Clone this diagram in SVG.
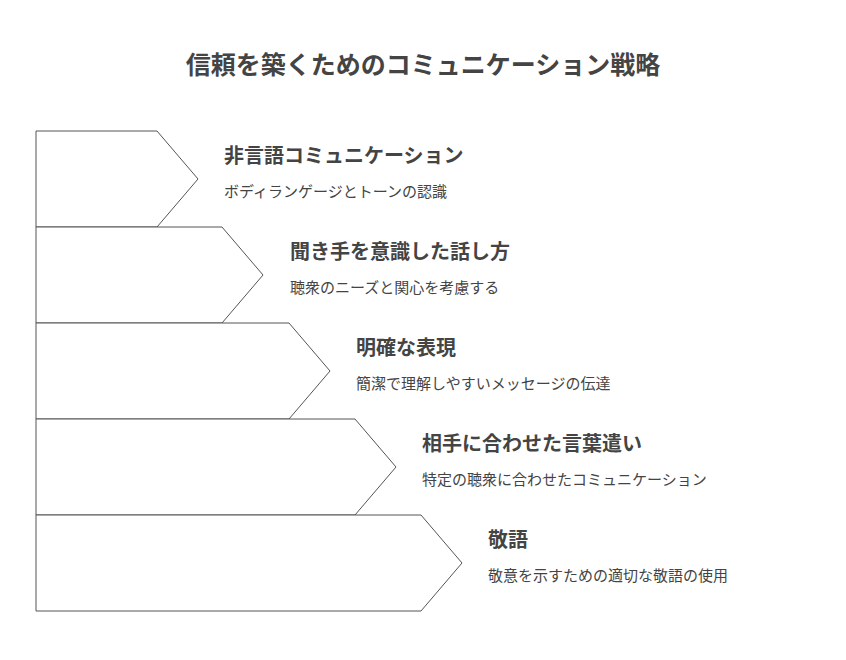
<svg xmlns="http://www.w3.org/2000/svg" width="846" height="660" viewBox="0 0 846 660">
<style>
.s{fill:#fff;stroke:#555;stroke-width:1}
.t{font-family:"Noto Sans CJK JP","Noto Sans",sans-serif;fill:#444}
.h{font-size:20px;font-weight:bold}
.d{font-size:15px}
.ti{font-size:25px;font-weight:bold}
</style>
<rect width="846" height="660" fill="#fff"/>
<text class="t ti" x="423" y="74" text-anchor="middle">信頼を築くためのコミュニケーション戦略</text>
<g id="connectors"></g>
<g id="n1"><path class="s" d="M36,131H157L198,179L157,227H36Z"/>
<text class="t h" x="224" y="163">非言語コミュニケーション</text>
<text class="t d" x="224" y="197">ボディランゲージとトーンの認識</text></g>
<g id="n2"><path class="s" d="M36,227H222L263,275L222,323H36Z"/>
<text class="t h" x="290" y="259">聞き手を意識した話し方</text>
<text class="t d" x="290" y="293">聴衆のニーズと関心を考慮する</text></g>
<g id="n3"><path class="s" d="M36,323H289L330,371L289,419H36Z"/>
<text class="t h" x="356" y="355">明確な表現</text>
<text class="t d" x="356" y="389">簡潔で理解しやすいメッセージの伝達</text></g>
<g id="n4"><path class="s" d="M36,419H355L396,467L355,515H36Z"/>
<text class="t h" x="422" y="451">相手に合わせた言葉遣い</text>
<text class="t d" x="422" y="485">特定の聴衆に合わせたコミュニケーション</text></g>
<g id="n5"><path class="s" d="M36,515H421L462,563L421,611H36Z"/>
<text class="t h" x="488" y="547">敬語</text>
<text class="t d" x="488" y="581">敬意を示すための適切な敬語の使用</text></g>
</svg>
